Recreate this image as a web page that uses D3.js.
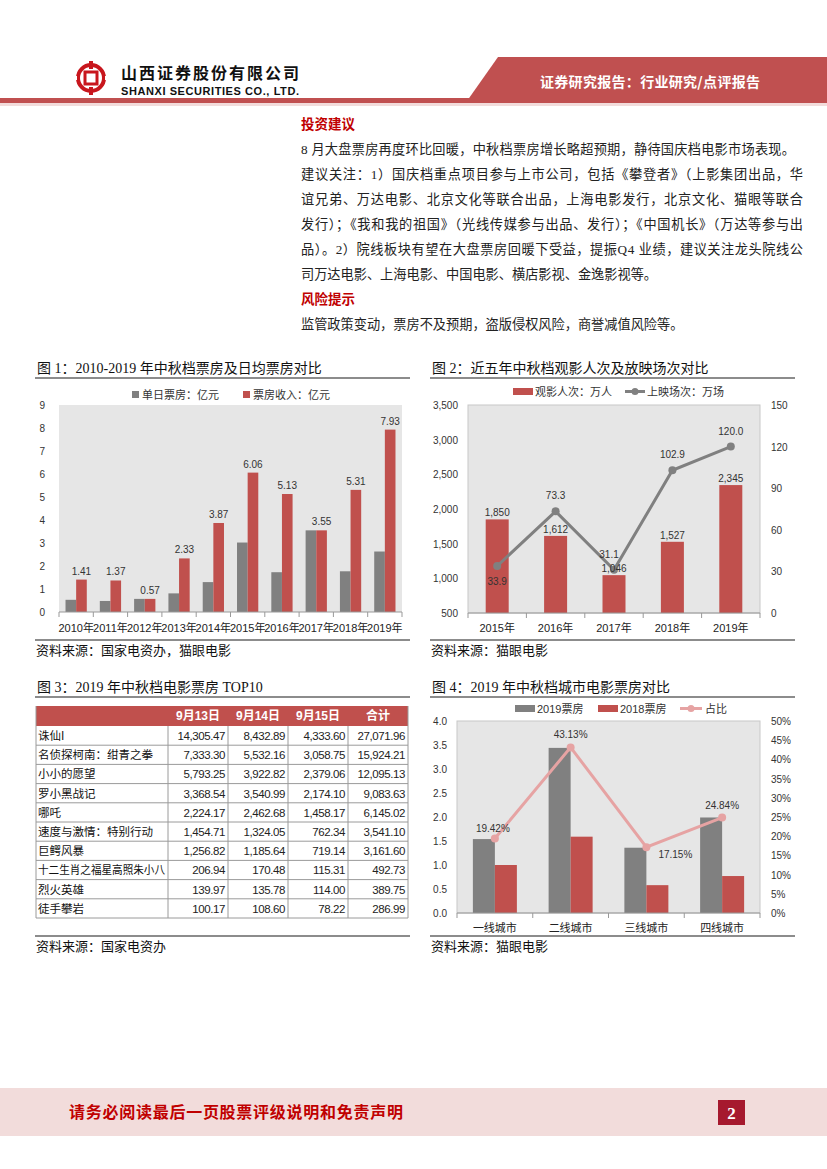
<!DOCTYPE html>
<html>
<head>
<meta charset="utf-8">
<script src="https://cdn.jsdelivr.net/npm/d3@7"></script>
<style>
  body { margin: 0; background: #fff; }
  svg { display: block; }
</style>
</head>
<body>
<script>
// ---- data ----
var years1 = ["2010年", "2011年", "2012年", "2013年", "2014年", "2015年", "2016年", "2017年", "2018年", "2019年"];
var daily1 = [0.53, 0.48, 0.57, 0.81, 1.30, 3.02, 1.73, 3.55, 1.77, 2.63];
var gross1 = [1.41, 1.37, 0.57, 2.33, 3.87, 6.06, 5.13, 3.55, 5.31, 7.93];
var ticks1 = [0, 1, 2, 3, 4, 5, 6, 7, 8, 9];

var years2 = ["2015年", "2016年", "2017年", "2018年", "2019年"];
var viewers2 = [1850, 1612, 1046, 1527, 2345];
var shows2 = [33.9, 73.3, 31.1, 102.9, 120.0];
var ticksL2 = [500, 1000, 1500, 2000, 2500, 3000, 3500];
var ticksR2 = [0, 30, 60, 90, 120, 150];

var films = ["诛仙I", "名侦探柯南：绀青之拳", "小小的愿望", "罗小黑战记", "哪吒", "速度与激情：特别行动", "巨鳄风暴", "十二生肖之福星高照朱小八", "烈火英雄", "徒手攀岩"];
var day13 = [14305.47, 7333.30, 5793.25, 3368.54, 2224.17, 1454.71, 1256.82, 206.94, 139.97, 100.17];
var day14 = [8432.89, 5532.16, 3922.82, 3540.99, 2462.68, 1324.05, 1185.64, 170.48, 135.78, 108.60];
var day15 = [4333.60, 3058.75, 2379.06, 2174.10, 1458.17, 762.34, 719.14, 115.31, 114.00, 78.22];
var total = [27071.96, 15924.21, 12095.13, 9083.63, 6145.02, 3541.10, 3161.60, 492.73, 389.75, 286.99];
var tableHead = ["9月13日", "9月14日", "9月15日", "合计"];

var cities4 = ["一线城市", "二线城市", "三线城市", "四线城市"];
var box2019 = [1.54, 3.44, 1.36, 1.99];
var box2018 = [1.00, 1.59, 0.58, 0.77];
var share4 = [0.1942, 0.4313, 0.1715, 0.2484];
var ticksL4 = [0, 0.5, 1, 1.5, 2, 2.5, 3, 3.5, 4];
var ticksR4 = [0, 0.05, 0.1, 0.15, 0.2, 0.25, 0.3, 0.35, 0.4, 0.45, 0.5];

var bodyLines = [
  "8 月大盘票房再度环比回暖，中秋档票房增长略超预期，静待国庆档电影市场表现。",
  "建议关注：1）国庆档重点项目参与上市公司，包括《攀登者》（上影集团出品，华",
  "谊兄弟、万达电影、北京文化等联合出品，上海电影发行，北京文化、猫眼等联合",
  "发行）；《我和我的祖国》（光线传媒参与出品、发行）；《中国机长》（万达等参与出",
  "品）。2）院线板块有望在大盘票房回暖下受益，提振Q4 业绩，建议关注龙头院线公",
  "司万达电影、上海电影、中国电影、横店影视、金逸影视等。"
];

// ---- page ----
var svg = d3.select("body").append("svg").attr("width", 827).attr("height", 1169)
var CJK = "'Noto Sans CJK SC', sans-serif"
var MIX = "'Liberation Serif', 'Noto Sans CJK SC', serif"
var SANS = "'Liberation Sans', 'Noto Sans CJK SC', sans-serif"
var RED = "#c0504d", GREY = "#808080", PLOT = "#e6e6e6"

// header
svg.append("polygon").attr("points", "498,57 827,57 827,101 467,101").attr("fill", "#c05050")
svg.append("rect").attr("x", 0).attr("y", 98).attr("width", 827).attr("height", 5).attr("fill", "#c05050")
svg.append("rect").attr("x", 0).attr("y", 103).attr("width", 827).attr("height", 3).attr("fill", "#f2dcdb")
svg.append("text").attr("x", 540).attr("y", 87).text("证券研究报告：行业研究/点评报告")
  .style("font-family", CJK).style("font-size", "14px").style("font-weight", "bold").style("fill", "#fff")
  .attr("textLength", 220)

// logo
var logo = svg.append("g").attr("transform", "translate(91,78)")
logo.append("circle").attr("r", 13).attr("fill", "none").attr("stroke", "#c8161d").attr("stroke-width", 4)
logo.append("rect").attr("x", -6).attr("y", -6).attr("width", 12).attr("height", 12).attr("fill", "none").attr("stroke", "#c8161d").attr("stroke-width", 3)
logo.append("rect").attr("x", -2).attr("y", -17).attr("width", 4).attr("height", 8).attr("fill", "#c8161d")
logo.append("rect").attr("x", -2).attr("y", 9).attr("width", 4).attr("height", 8).attr("fill", "#c8161d")
logo.append("rect").attr("x", -18).attr("y", -2).attr("width", 4).attr("height", 4).attr("fill", "#fff")
logo.append("rect").attr("x", 14).attr("y", -2).attr("width", 4).attr("height", 4).attr("fill", "#fff")

svg.append("text").attr("x", 121).attr("y", 79).text("山西证券股份有限公司")
  .style("font-family", CJK).style("font-size", "16px").style("font-weight", "bold").style("fill", "#111")
  .attr("textLength", 178)
svg.append("text").attr("x", 121).attr("y", 95).text("SHANXI SECURITIES CO., LTD.")
  .style("font-family", SANS).style("font-size", "11px").style("font-weight", "bold").style("fill", "#111")
  .attr("textLength", 178)

// body text
svg.append("text").attr("x", 301).attr("y", 129).text("投资建议")
  .style("font-family", CJK).style("font-size", "13.5px").style("font-weight", "bold").style("fill", "#c00000")
bodyLines.forEach(function (t, i) {
  var tx = svg.append("text").attr("x", 301).attr("y", 154 + i * 25).text(t)
    .style("font-family", MIX).style("font-size", "13.2px").style("fill", "#222")
  if (i == 0) tx.attr("textLength", 494)
  else if (i < 5) tx.attr("textLength", 502).attr("lengthAdjust", "spacing")
})
svg.append("text").attr("x", 301).attr("y", 304).text("风险提示")
  .style("font-family", CJK).style("font-size", "13.5px").style("font-weight", "bold").style("fill", "#c00000")
svg.append("text").attr("x", 301).attr("y", 329).text("监管政策变动，票房不及预期，盗版侵权风险，商誉减值风险等。")
  .style("font-family", MIX).style("font-size", "13.2px").style("fill", "#222")

// titles + source lines
function frame(x0, x1, title, yTitle, source, ySource) {
  svg.append("text").attr("x", x0 + 2).attr("y", yTitle).text(title)
    .style("font-family", MIX).style("font-size", "14px").style("fill", "#111")
  svg.append("line").attr("x1", x0).attr("x2", x1).attr("y1", yTitle + 5).attr("y2", yTitle + 5)
    .attr("stroke", "#8c8c8c").attr("stroke-width", 2)
  svg.append("line").attr("x1", x0).attr("x2", x1).attr("y1", ySource - 15).attr("y2", ySource - 15)
    .attr("stroke", "#8c8c8c").attr("stroke-width", 2)
  svg.append("text").attr("x", x0 + 1).attr("y", ySource).text(source)
    .style("font-family", CJK).style("font-size", "13px").style("fill", "#111")
}
frame(35, 410, "图 1：2010-2019 年中秋档票房及日均票房对比", 373, "资料来源：国家电资办，猫眼电影", 655)
frame(430, 795, "图 2：近五年中秋档观影人次及放映场次对比", 373, "资料来源：猫眼电影", 655)
frame(35, 410, "图 3：2019 年中秋档电影票房 TOP10", 692, "资料来源：国家电资办", 951)
frame(430, 795, "图 4：2019 年中秋档城市电影票房对比", 692, "资料来源：猫眼电影", 951)

function label(g, x, y, t, anchor, size) {
  return g.append("text").attr("x", x).attr("y", y).text(t).attr("text-anchor", anchor || "middle")
    .style("font-family", SANS).style("font-size", (size || 10) + "px").style("fill", "#333")
}

// ---- chart 1 ----
var c1 = svg.append("g")
var x1 = d3.scaleBand().domain(years1).range([59, 402])
var y1 = d3.scaleLinear().domain([0, 9]).range([612, 405])
var bw1 = x1.bandwidth() * 0.31
c1.append("rect").attr("x", 59).attr("y", 405).attr("width", 343).attr("height", 207).attr("fill", PLOT)
c1.selectAll(".d").data(daily1).enter().append("rect")
  .attr("x", (d, i) => x1(years1[i]) + x1.bandwidth() / 2 - bw1).attr("y", d => y1(d))
  .attr("width", bw1).attr("height", d => 612 - y1(d)).attr("fill", GREY)
c1.selectAll(".g").data(gross1).enter().append("rect")
  .attr("x", (d, i) => x1(years1[i]) + x1.bandwidth() / 2).attr("y", d => y1(d))
  .attr("width", bw1).attr("height", d => 612 - y1(d)).attr("fill", RED)
gross1.forEach((d, i) => label(c1, x1(years1[i]) + x1.bandwidth() / 2 + bw1 / 2, y1(d) - 5, d.toFixed(2)))
c1.append("line").attr("x1", 59).attr("x2", 402).attr("y1", 612).attr("y2", 612).attr("stroke", "#999")
years1.concat([null]).forEach((d, i) => {
  var xx = 59 + i * x1.bandwidth()
  c1.append("line").attr("x1", xx).attr("x2", xx).attr("y1", 612).attr("y2", 617).attr("stroke", "#999")
})
years1.forEach(d => label(c1, x1(d) + x1.bandwidth() / 2, 632, d, "middle", 11).style("fill", "#222"))
ticks1.forEach(d => label(c1, 45, y1(d) + 4, d, "end", 10))
c1.append("rect").attr("x", 132).attr("y", 391).attr("width", 7).attr("height", 7).attr("fill", GREY)
label(c1, 142, 399, "单日票房：亿元", "start", 11)
c1.append("rect").attr("x", 243).attr("y", 391).attr("width", 7).attr("height", 7).attr("fill", RED)
label(c1, 253, 399, "票房收入：亿元", "start", 11)

// ---- chart 2 ----
var c2 = svg.append("g")
var x2 = d3.scaleBand().domain(years2).range([468, 760])
var yL2 = d3.scaleLinear().domain([500, 3500]).range([613, 405])
var yR2 = d3.scaleLinear().domain([0, 150]).range([613, 405])
c2.append("rect").attr("x", 468).attr("y", 405).attr("width", 292).attr("height", 208)
  .attr("fill", PLOT).attr("stroke", "#c8c8c8")
var cx2 = d => x2(d) + x2.bandwidth() / 2
c2.selectAll(".b").data(viewers2).enter().append("rect")
  .attr("x", (d, i) => cx2(years2[i]) - 11.5).attr("y", d => yL2(d))
  .attr("width", 23).attr("height", d => 613 - yL2(d)).attr("fill", RED)
c2.append("line").attr("x1", 468).attr("x2", 760).attr("y1", 613).attr("y2", 613).attr("stroke", "#999")
years2.concat([null]).forEach((d, i) => {
  var xx = 468 + i * x2.bandwidth()
  c2.append("line").attr("x1", xx).attr("x2", xx).attr("y1", 613).attr("y2", 618).attr("stroke", "#999")
})
var line2 = d3.line().x((d, i) => cx2(years2[i])).y(d => yR2(d))
c2.append("path").datum(shows2).attr("d", line2).attr("fill", "none").attr("stroke", GREY).attr("stroke-width", 3)
c2.selectAll(".dot").data(shows2).enter().append("circle")
  .attr("cx", (d, i) => cx2(years2[i])).attr("cy", d => yR2(d)).attr("r", 4).attr("fill", GREY)
viewers2.forEach((d, i) => label(c2, cx2(years2[i]), yL2(d) - 3, d3.format(",")(d)))
shows2.forEach((d, i) => label(c2, cx2(years2[i]) + (i == 2 ? -5 : 0), i == 0 ? yR2(d) + 19 : yR2(d) - 12, d.toFixed(1)))
years2.forEach(d => label(c2, cx2(d), 632, d, "middle", 11).style("fill", "#222"))
ticksL2.forEach(d => label(c2, 458, yL2(d) + 4, d3.format(",")(d), "end", 10))
ticksR2.forEach(d => label(c2, 771, yR2(d) + 4, d, "start", 10))
c2.append("rect").attr("x", 513).attr("y", 388).attr("width", 20).attr("height", 7).attr("fill", RED)
label(c2, 535, 396, "观影人次：万人", "start", 11)
c2.append("line").attr("x1", 625).attr("x2", 645).attr("y1", 391.5).attr("y2", 391.5).attr("stroke", GREY).attr("stroke-width", 3)
c2.append("circle").attr("cx", 635).attr("cy", 391.5).attr("r", 3.5).attr("fill", GREY)
label(c2, 647, 396, "上映场次：万场", "start", 11)

// ---- table (图3) ----
var tb = svg.append("g")
var colX = [36, 168, 228, 288, 348, 408]
var rowY = d3.scaleLinear().domain([0, 1]).range([726, 745.2])
tb.append("rect").attr("x", 36).attr("y", 706).attr("width", 372).attr("height", 20).attr("fill", RED)
tableHead.forEach((h, i) => {
  tb.append("text").attr("x", (colX[i + 1] + colX[i + 2]) / 2).attr("y", 720).text(h).attr("text-anchor", "middle")
    .style("font-family", SANS).style("font-size", "12px").style("font-weight", "bold").style("fill", "#fff")
})
var fmt = d3.format(",.2f")
films.forEach((f, i) => {
  var yb = rowY(i + 1)
  tb.append("line").attr("x1", 36).attr("x2", 408).attr("y1", yb).attr("y2", yb).attr("stroke", "#9a9a9a")
  var ty = rowY(i) + 14
  var nm = tb.append("text").attr("x", 38).attr("y", ty).text(f)
    .style("font-family", CJK).style("font-size", "11.5px").style("fill", "#111")
  if (f.length > 10) nm.attr("textLength", 127).attr("lengthAdjust", "spacingAndGlyphs")
  ;[day13[i], day14[i], day15[i], total[i]].forEach((v, j) => {
    tb.append("text").attr("x", colX[j + 2] - 3).attr("y", ty).text(fmt(v)).attr("text-anchor", "end")
      .style("font-family", SANS).style("font-size", "11.5px").style("letter-spacing", "-0.4px").style("fill", "#222")
  })
})
colX.forEach((x, j) => {
  tb.append("line").attr("x1", x).attr("x2", x).attr("y1", j == 0 || j == 5 ? 706 : 726).attr("y2", rowY(films.length))
    .attr("stroke", "#9a9a9a")
})

// ---- chart 4 ----
var c4 = svg.append("g")
var x4 = d3.scaleBand().domain(cities4).range([457, 760])
var yL4 = d3.scaleLinear().domain([0, 4]).range([913, 721])
var yR4 = d3.scaleLinear().domain([0, 0.5]).range([913, 721])
var cx4 = d => x4(d) + x4.bandwidth() / 2
c4.append("rect").attr("x", 457).attr("y", 721).attr("width", 303).attr("height", 192)
  .attr("fill", PLOT).attr("stroke", "#c8c8c8")
c4.selectAll(".a").data(box2019).enter().append("rect")
  .attr("x", (d, i) => cx4(cities4[i]) - 22).attr("y", d => yL4(d))
  .attr("width", 22).attr("height", d => 913 - yL4(d)).attr("fill", GREY)
c4.selectAll(".b").data(box2018).enter().append("rect")
  .attr("x", (d, i) => cx4(cities4[i])).attr("y", d => yL4(d))
  .attr("width", 22).attr("height", d => 913 - yL4(d)).attr("fill", RED)
c4.append("line").attr("x1", 457).attr("x2", 760).attr("y1", 913).attr("y2", 913).attr("stroke", "#999")
cities4.concat([null]).forEach((d, i) => {
  var xx = 457 + i * x4.bandwidth()
  c4.append("line").attr("x1", xx).attr("x2", xx).attr("y1", 913).attr("y2", 918).attr("stroke", "#999")
})
var line4 = d3.line().x((d, i) => cx4(cities4[i])).y(d => yR4(d))
var PINK = "#e6a3a3"
c4.append("path").datum(share4).attr("d", line4).attr("fill", "none").attr("stroke", PINK).attr("stroke-width", 3)
c4.selectAll(".dot").data(share4).enter().append("circle")
  .attr("cx", (d, i) => cx4(cities4[i])).attr("cy", d => yR4(d)).attr("r", 4).attr("fill", PINK)
var pct = d3.format(".2%")
share4.forEach((d, i) => {
  var lx = cx4(cities4[i]), ly = yR4(d) - 9, anc = "middle"
  if (i == 0) { lx -= 2; ly = yR4(d) - 6 }
  if (i == 2) { lx += 12; ly = yR4(d) + 11; anc = "start" }
  label(c4, lx, ly, pct(d), anc, 10)
})
cities4.forEach(d => label(c4, cx4(d), 932, d, "middle", 11).style("fill", "#222"))
ticksL4.forEach(d => label(c4, 447, yL4(d) + 4, d.toFixed(1), "end", 10))
ticksR4.forEach(d => label(c4, 771, yR4(d) + 4, d3.format(".0%")(d), "start", 10))
c4.append("rect").attr("x", 515).attr("y", 705).attr("width", 20).attr("height", 7).attr("fill", GREY)
label(c4, 537, 713, "2019票房", "start", 11)
c4.append("rect").attr("x", 598).attr("y", 705).attr("width", 20).attr("height", 7).attr("fill", RED)
label(c4, 620, 713, "2018票房", "start", 11)
c4.append("line").attr("x1", 680).attr("x2", 702).attr("y1", 708.5).attr("y2", 708.5).attr("stroke", PINK).attr("stroke-width", 3)
c4.append("circle").attr("cx", 691).attr("cy", 708.5).attr("r", 3.5).attr("fill", PINK)
label(c4, 705, 713, "占比", "start", 11)

// footer
svg.append("rect").attr("x", 0).attr("y", 1088).attr("width", 827).attr("height", 48).attr("fill", "#f2dcdb")
svg.append("text").attr("x", 69).attr("y", 1118).text("请务必阅读最后一页股票评级说明和免责声明")
  .style("font-family", CJK).style("font-size", "16px").style("font-weight", "bold").style("fill", "#c00000")
  .attr("textLength", 334)
svg.append("rect").attr("x", 718).attr("y", 1100).attr("width", 27).attr("height", 25).attr("fill", "#a6192e")
svg.append("text").attr("x", 731.5).attr("y", 1119).text("2").attr("text-anchor", "middle")
  .style("font-family", "'Liberation Serif', serif").style("font-size", "17px").style("font-weight", "bold").style("fill", "#fff")
</script>
</body>
</html>
